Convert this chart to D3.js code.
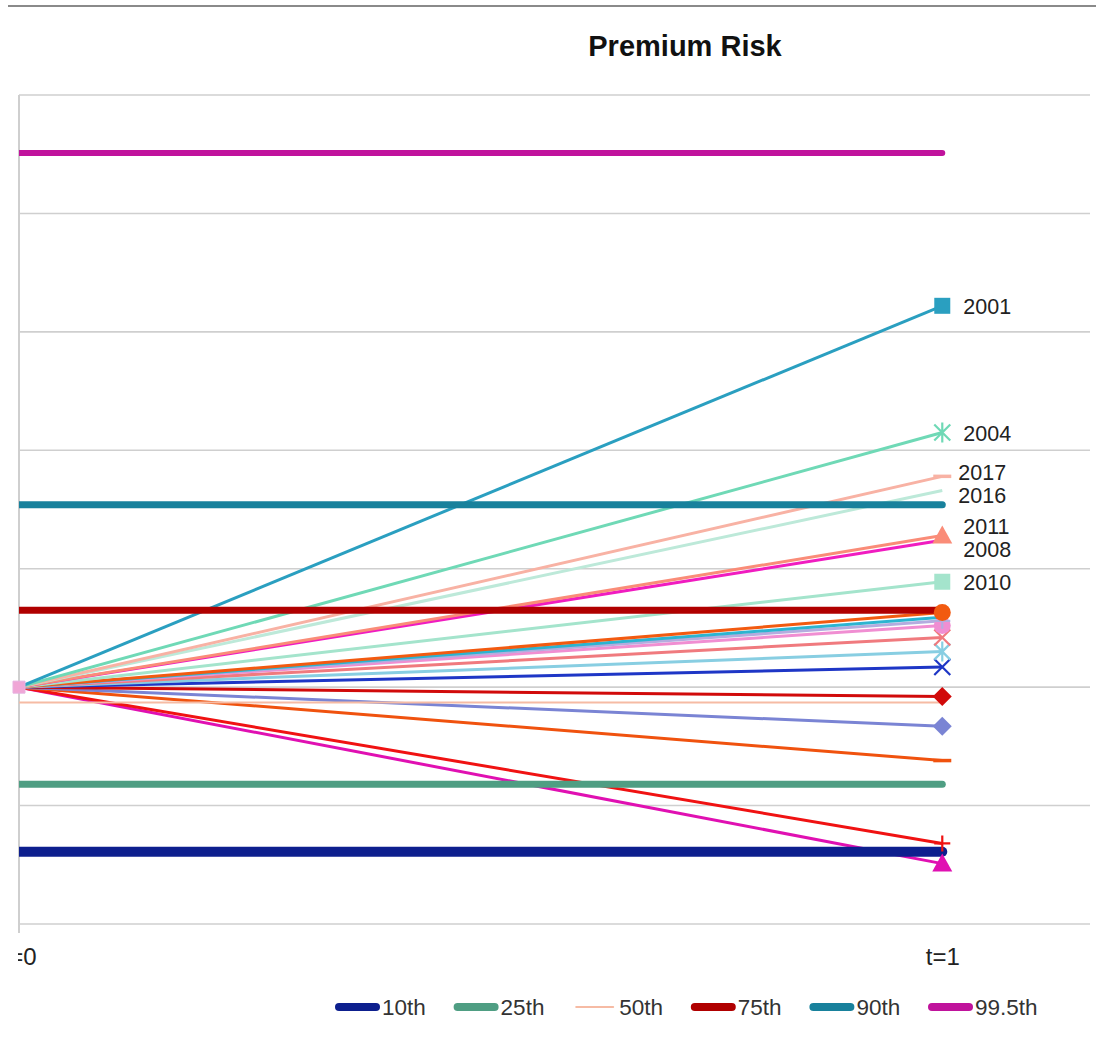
<!DOCTYPE html>
<html>
<head>
<meta charset="utf-8">
<script src="https://cdn.jsdelivr.net/npm/d3@7"></script>
<style>
  html, body { margin: 0; padding: 0; background: #fff; }
  svg { display: block; font-family: "Liberation Sans", Arial, sans-serif; }
</style>
</head>
<body>
<svg id="chart" width="1096" height="1041"></svg>
<script>
// ---------------- data ----------------
const categories = ["t=0", "t=1"];
const startValue = 0;

const years = ["2001","2004","2017","2016","2011","2008","2010",
               "2000","2002","2003","2005","2006","2007","2009",
               "2012","2013","2014","2015","2018"];
const yearEndValues = [0.322, 0.215, 0.178, 0.166, 0.128, 0.124, 0.089,
                       0.063, 0.059, 0.056, 0.052, 0.042, 0.030, 0.017,
                       -0.008, -0.033, -0.062, -0.132, -0.149];
const labeledYears = ["2001","2004","2017","2016","2011","2008","2010"];

const percentileNames = ["10th", "25th", "50th", "75th", "90th", "99.5th"];
const percentileValues = [-0.139, -0.082, -0.013, 0.065, 0.154, 0.451];

const yTicks = [-0.2, -0.1, 0, 0.1, 0.2, 0.3, 0.4, 0.5];

// ---------------- styles ----------------
const yearColors = ["#2a9fc0","#6fd9b6","#f8b2a4","#bde9d9","#fa8c78","#f01cc0","#a4e4cc",
                    "#f25a10","#2cb4d0","#b4acdf","#f08ed2","#f07a7e","#88cee2","#1e36c6",
                    "#d10a0a","#7a84d4","#f0520e","#f01212","#e010b2"];
const yearMarkers = ["square","asterisk","dash","none","triangle","none","square",
                     "circle","none","plus","circle","x","asterisk","x",
                     "diamond","diamond","dash","plus","triangle"];
const percentileColors = ["#0d1f8e", "#4f9e83", "#f6bba4", "#b00000", "#18819c", "#c0139c"];
const percentileWidths = [10, 7, 2, 7, 7, 6];

// ---------------- layout ----------------
const svg = d3.select("#chart");
const W = 1096, H = 1041;
const plot = { left: 19, right: 1090, top: 95, bottom: 924 };

const x = d3.scaleLinear().domain([0, 1.16]).range([plot.left, plot.right]);
const y = d3.scaleLinear().domain([-0.2, 0.5]).range([plot.bottom, plot.top]);

const defs = svg.append("defs");
defs.append("clipPath").attr("id", "plotClip").append("rect")
  .attr("x", plot.left).attr("y", 0).attr("width", W - plot.left).attr("height", H);
defs.append("clipPath").attr("id", "labelClip").append("rect")
  .attr("x", 18).attr("y", 0).attr("width", W - 18).attr("height", H);

// top border of frame
svg.append("line").attr("x1", 8).attr("x2", W).attr("y1", 6).attr("y2", 6)
  .attr("stroke", "#8a8a8a").attr("stroke-width", 2);

// title
svg.append("text").attr("x", 685).attr("y", 56).attr("text-anchor", "middle")
  .attr("font-size", 29).attr("font-weight", "bold").attr("fill", "#111")
  .text("Premium Risk");

// gridlines
svg.append("g").selectAll("line").data(yTicks).join("line")
  .attr("x1", plot.left).attr("x2", plot.right)
  .attr("y1", d => y(d)).attr("y2", d => y(d))
  .attr("stroke", "#cfcfcf").attr("stroke-width", 1.6);

// left axis line
svg.append("line").attr("x1", plot.left).attr("x2", plot.left)
  .attr("y1", plot.top).attr("y2", plot.bottom + 9)
  .attr("stroke", "#cfcfcf").attr("stroke-width", 2);

// x axis labels
const xAxis = d3.axisBottom(x).tickValues([0, 1]).tickFormat(d => categories[d]).tickSize(0).tickPadding(24);
const gx = svg.append("g").attr("transform", `translate(0,${plot.bottom})`)
  .attr("clip-path", "url(#labelClip)").call(xAxis);
gx.select(".domain").remove();
gx.selectAll("text").attr("font-size", 24).attr("fill", "#222")
  .attr("font-family", "Liberation Sans, Arial, sans-serif");

// year lines
const yearData = years.map((yr, i) => ({
  name: yr, color: yearColors[i], marker: yearMarkers[i],
  pts: [[0, startValue], [1, yearEndValues[i]]]
}));
const line = d3.line().x(d => x(d[0])).y(d => y(d[1]));

const plotG = svg.append("g").attr("clip-path", "url(#plotClip)");
plotG.append("g").selectAll("path").data(yearData.slice().reverse()).join("path")
  .attr("d", d => line(d.pts))
  .attr("fill", "none").attr("stroke", d => d.color).attr("stroke-width", 3);

// percentile lines
const pctData = percentileNames.map((n, i) => ({
  name: n, color: percentileColors[i], w: percentileWidths[i],
  pts: [[0, percentileValues[i]], [1, percentileValues[i]]]
}));
plotG.append("g").selectAll("path").data(pctData).join("path")
  .attr("d", d => line(d.pts))
  .attr("fill", "none").attr("stroke", d => d.color)
  .attr("stroke-width", d => d.w).attr("stroke-linecap", "round");

// markers
function markerPath(type) {
  switch (type) {
    case "square": return "M-8,-8H8V8H-8Z";
    case "circle": return "M-8.5,0A8.5,8.5 0 1,0 8.5,0A8.5,8.5 0 1,0 -8.5,0Z";
    case "triangle": return "M0,-10L10,8H-10Z";
    case "diamond": return "M0,-9.5L9.5,0L0,9.5L-9.5,0Z";
    case "x": return "M-8,-8L8,8M-8,8L8,-8";
    case "plus": return "M-8,0H8M0,-8V8";
    case "asterisk": return "M-8,-8L8,8M-8,8L8,-8M0,-10V10";
    case "dash": return "M-9,0H9";
    default: return "";
  }
}
const filled = new Set(["square","circle","triangle","diamond"]);
svg.append("g").selectAll("path").data(yearData.filter(d => d.marker !== "none").reverse()).join("path")
  .attr("transform", d => `translate(${x(1)},${y(d.pts[1][1])})`)
  .attr("d", d => markerPath(d.marker))
  .attr("fill", d => filled.has(d.marker) ? d.color : "none")
  .attr("stroke", d => d.color)
  .attr("stroke-width", d => filled.has(d.marker) ? 0 : (d.marker === "dash" ? 3.5 : 2.2));

// shared origin marker
svg.append("path")
  .attr("transform", `translate(${x(0)},${y(startValue)})`)
  .attr("d", "M-6,-6H6V6H-6Z")
  .attr("fill", "#f0a6d6").attr("stroke", "#e7b0e0").attr("stroke-width", 1);

// year labels with simple de-overlap
const GAP = 23;
const labels = yearData.filter(d => labeledYears.includes(d.name))
  .map(d => ({ name: d.name, y0: y(d.pts[1][1]), y: y(d.pts[1][1]) }))
  .sort((a, b) => a.y0 - b.y0);
for (let it = 0; it < 50; it++) {
  for (let i = 1; i < labels.length; i++) {
    const gap = labels[i].y - labels[i - 1].y;
    if (gap < GAP) {
      const d = (GAP - gap) / 2;
      labels[i].y += d; labels[i - 1].y -= d;
    }
  }
}
svg.append("g").selectAll("text").data(labels).join("text")
  .attr("x", d => (d.name === "2017" || d.name === "2016") ? x(1) + 16 : x(1) + 21)
  .attr("y", d => d.y + 8)
  .attr("font-size", 21.5).attr("fill", "#222")
  .text(d => d.name);

// legend
const legX0 = 335, legStep = 118.6, legY = 1007;
const leg = svg.append("g").selectAll("g").data(pctData).join("g")
  .attr("transform", (d, i) => `translate(${legX0 + i * legStep},${legY})`);
leg.append("line").attr("x1", 4).attr("x2", 41).attr("y1", 0).attr("y2", 0)
  .attr("stroke", d => d.color)
  .attr("stroke-width", d => d.w >= 6 ? 8 : d.w)
  .attr("stroke-linecap", "round");
leg.append("text").attr("x", 47).attr("y", 8).attr("font-size", 22.5).attr("fill", "#333")
  .text(d => d.name);
</script>
</body>
</html>
